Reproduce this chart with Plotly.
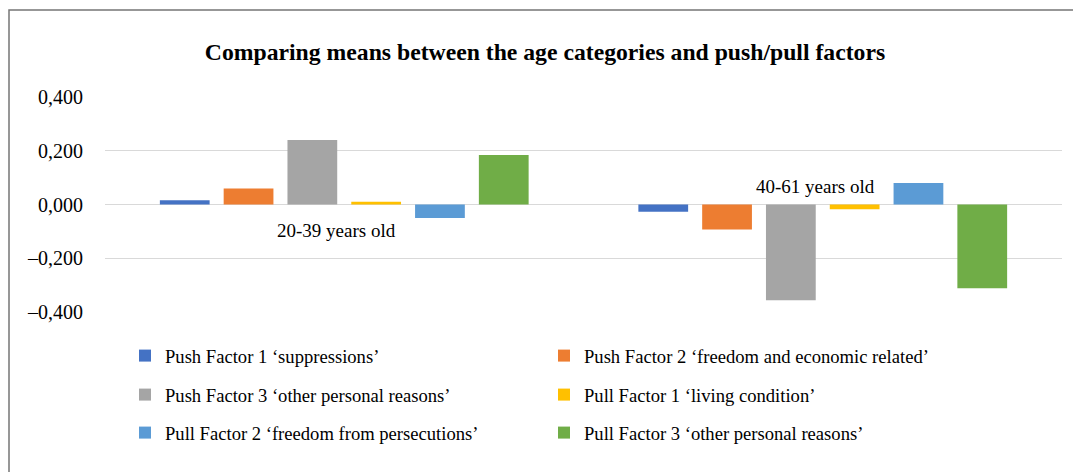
import plotly.graph_objects as go

categories = ["20-39 years old", "40-61 years old"]
series_names = [
    "Push Factor 1 ‘suppressions’",
    "Push Factor 2 ‘freedom and economic related’",
    "Push Factor 3 ‘other personal reasons’",
    "Pull Factor 1 ‘living condition’",
    "Pull Factor 2 ‘freedom from persecutions’",
    "Pull Factor 3 ‘other personal reasons’",
]
push1 = [0.016, -0.027]
push2 = [0.060, -0.093]
push3 = [0.240, -0.356]
pull1 = [0.010, -0.018]
pull2 = [-0.050, 0.080]
pull3 = [0.184, -0.312]
tick_vals = [-0.4, -0.2, 0.0, 0.2, 0.4]
tick_text = ["–0,400", "–0,200", "0,000", "0,200", "0,400"]
title_text = "Comparing means between the age categories and push/pull factors"

colors = ["#4472C4", "#ED7D31", "#A5A5A5", "#FFC000", "#5B9BD5", "#70AD47"]
all_values = [push1, push2, push3, pull1, pull2, pull3]
legend_ids = ["legend", "legend", "legend2", "legend2", "legend3", "legend3"]

FONT = "Liberation Serif, Times New Roman, serif"

fig = go.Figure()
for name, vals, col, lg in zip(series_names, all_values, colors, legend_ids):
    fig.add_trace(go.Bar(x=categories, y=vals, name=name, legend=lg,
                         marker=dict(color=col, line=dict(width=0))))

W, H = 1073, 472
ml, mr, mt, mb = 105, 11, 97, 160
pw, ph = W - ml - mr, H - mt - mb

def px_x(p):
    return (p - ml) / pw

def px_y(p):
    return (H - mb - p) / ph

def legend_row(y_px):
    return dict(orientation="h", x=125 / W, xref="container", xanchor="left",
                y=1 - y_px / H, yref="container", yanchor="middle",
                entrywidth=374, entrywidthmode="pixels",
                bgcolor="rgba(0,0,0,0)",
                font=dict(family=FONT, size=18.6, color="#000000"))

fig.update_layout(
    width=W, height=H,
    margin=dict(l=ml, r=mr, t=mt, b=mb, autoexpand=False),
    paper_bgcolor="white", plot_bgcolor="white",
    font=dict(family=FONT, size=19, color="#000000"),
    barmode="group", bargap=0.2, bargroupgap=0.22,
    title=dict(text="<b>" + title_text + "</b>", x=545 / W, xref="container",
               xanchor="center", y=1 - 52 / H, yref="container", yanchor="middle",
               font=dict(family=FONT, size=23.7, color="#000000")),
    showlegend=True,
    legend=legend_row(356),
    legend2=legend_row(395),
    legend3=legend_row(433),
    xaxis=dict(type="category", range=[-0.5, 1.5], showticklabels=False,
               showgrid=False, zeroline=False, showline=False, ticks=""),
    yaxis=dict(range=[-0.4, 0.4], tickvals=tick_vals, ticktext=tick_text,
               showgrid=True, gridcolor="#D9D9D9", gridwidth=1,
               zeroline=True, zerolinecolor="#D9D9D9", zerolinewidth=1,
               showline=False, ticks="", ticklabelstandoff=21,
               tickfont=dict(family=FONT, size=20, color="#000000")),
)

# category labels placed next to the axis (as in the reference)
fig.add_annotation(x=categories[0], y=0, xref="x", yref="y", text=categories[0],
                   showarrow=False, yshift=-26, xshift=-8,
                   font=dict(family=FONT, size=19, color="#000000"))
fig.add_annotation(x=categories[1], y=0, xref="x", yref="y", text=categories[1],
                   showarrow=False, yshift=18, xshift=-7,
                   font=dict(family=FONT, size=19, color="#000000"))

# chart area border
fig.add_shape(type="rect", xref="paper", yref="paper",
              x0=px_x(9), x1=px_x(1090), y0=px_y(490), y1=px_y(10),
              line=dict(color="#767676", width=1.5), fillcolor="rgba(0,0,0,0)",
              layer="below")

fig.write_html("out.html", config={"displayModeBar": False},
               post_script="document.body.style.margin='0';document.body.style.overflow='hidden';")
